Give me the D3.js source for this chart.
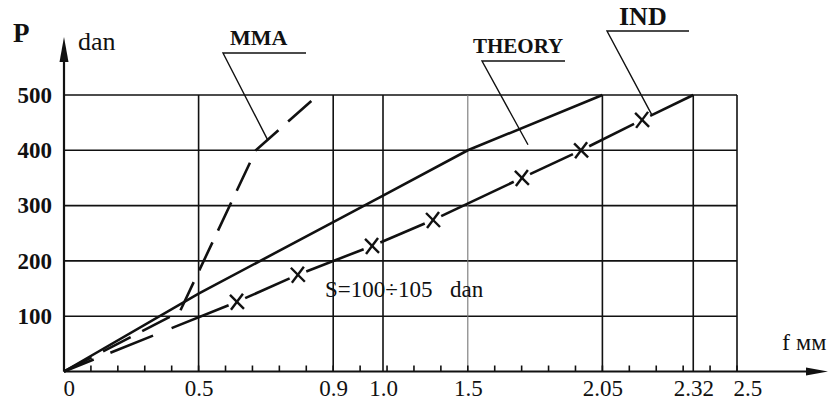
<!DOCTYPE html>
<html>
<head>
<meta charset="utf-8">
<script src="https://cdn.jsdelivr.net/npm/d3@7"></script>
<style>
  html, body { margin: 0; background: #fff; }
  svg { display: block; }
</style>
</head>
<body>
<svg id="chart" width="832" height="403"></svg>
<script>
// Load P (dan) against deflection f (mm) for three cases
const xTickValues = [0, 0.5, 0.9, 1.0, 1.5, 2.05, 2.32, 2.5];
const xTickLabels = ["0", "0.5", "0.9", "1.0", "1.5", "2.05", "2.32", "2.5"];
const yTickValues = [100, 200, 300, 400, 500];

const theoryF = [0, 0.5, 0.9, 1.0, 1.5, 2.05];
const theoryP = [0, 141, 270, 318, 400, 500];

const mmaF = [0, 0.43, 0.67, 0.855];
const mmaP = [0, 108, 400, 500];

const indF = [0, 0.614, 0.795, 0.978, 1.295, 1.721, 1.963, 2.168, 2.32];
const indP = [0, 126, 175, 227, 274, 350, 400, 455, 500];

const FONT = '"Liberation Serif"';
const INK = "#111";

// ---- layout ----
const plotLeft = 64, plotRight = 737, plotBottom = 371.5, plotTop = 95;

// The drawing's grid columns are not proportional to f:
// the labelled gridlines sit at these fractions of the plot width.
const xGridFrac = [0, 0.2, 0.4, 0.474, 0.6, 0.8, 0.935, 1];

const x = d3.scaleLinear()
  .domain(xTickValues)
  .range(xGridFrac.map(t => plotLeft + t * (plotRight - plotLeft)));
const y = d3.scaleLinear().domain([0, 500]).range([plotBottom, plotTop]);

const svg = d3.select("#chart");

function label(sel, size, bold) {
  return sel.style("font-family", FONT)
    .style("font-size", size + "px").style("font-weight", bold ? "bold" : "normal")
    .attr("fill", INK);
}

// ---- grid ----
const grid = svg.append("g");
grid.selectAll("line.h").data(yTickValues).join("line")
  .attr("x1", x(0)).attr("x2", x(2.5))
  .attr("y1", d => y(d)).attr("y2", d => y(d))
  .attr("stroke", INK).attr("stroke-width", 1.6);
grid.selectAll("line.v").data(xTickValues.slice(1)).join("line")
  .attr("x1", d => x(d)).attr("x2", d => x(d))
  .attr("y1", y(0)).attr("y2", y(500))
  .attr("stroke", d => d === 1.5 ? "#777" : INK)
  .attr("stroke-width", d => d === 1.5 ? 1.1 : 1.6);

// minor ticks: 25 equal divisions of the axis
const tickPos = d3.scaleLinear().domain([0, 25]).range([x(0), x(2.5)]);
grid.selectAll("line.t").data(d3.range(26)).join("line")
  .attr("x1", d => tickPos(d)).attr("x2", d => tickPos(d))
  .attr("y1", y(0)).attr("y2", y(0) - 6)
  .attr("stroke", INK).attr("stroke-width", 1.6);

// ---- axes with arrows ----
const axisG = svg.append("g");
const yTip = 37, yArrowBase = 62, xTip = 828, xArrowBase = 806;
axisG.append("line")
  .attr("x1", plotLeft).attr("x2", plotLeft).attr("y1", y(0)).attr("y2", yArrowBase)
  .attr("stroke", INK).attr("stroke-width", 2.2);
axisG.append("path")
  .attr("d", `M${plotLeft},${yTip}L${plotLeft - 4.5},${yArrowBase}L${plotLeft + 4.5},${yArrowBase}Z`)
  .attr("fill", INK);
axisG.append("line")
  .attr("x1", plotLeft).attr("x2", xArrowBase).attr("y1", y(0)).attr("y2", y(0))
  .attr("stroke", INK).attr("stroke-width", 2.2);
axisG.append("path")
  .attr("d", `M${xTip},${y(0)}L${xArrowBase},${y(0) - 4}L${xArrowBase},${y(0) + 4}Z`)
  .attr("fill", INK);

// tick labels
const xAxis = svg.append("g").attr("transform", `translate(0,${y(0)})`)
  .call(d3.axisBottom(x).tickValues(xTickValues)
    .tickFormat((d, i) => xTickLabels[i]).tickSize(0).tickPadding(8.5));
xAxis.select(".domain").remove();
xAxis.attr("font-family", null).attr("font-size", null);
label(xAxis.selectAll("text"), 23, false);
// the end labels sit to the right of their gridlines
xAxis.selectAll(".tick").filter((d, i) => i === 0).select("text")
  .attr("text-anchor", "start").attr("dx", -1);
xAxis.selectAll(".tick").filter((d, i) => i === xTickValues.length - 1).select("text")
  .attr("text-anchor", "start").attr("dx", -4);

const yAxis = svg.append("g").attr("transform", `translate(${plotLeft},0)`)
  .call(d3.axisLeft(y).tickValues(yTickValues).tickSize(0).tickPadding(12));
yAxis.select(".domain").remove();
yAxis.attr("font-family", null).attr("font-size", null);
label(yAxis.selectAll("text"), 23, true);

// axis titles
label(svg.append("text").attr("x", 13).attr("y", 42), 27, true).text("P");
label(svg.append("text").attr("x", 78).attr("y", 50), 26, false).text("dan");
label(svg.append("text").attr("x", 782).attr("y", 350), 24, false).text("f мм");

// ---- curves ----
const line = d3.line().x(d => x(d[0])).y(d => y(d[1]));
const zip = (a, b) => a.map((v, i) => [v, b[i]]);

const curves = svg.append("g").attr("fill", "none").attr("stroke", INK)
  .attr("stroke-width", 2.6).attr("stroke-linecap", "butt");

curves.append("path").attr("d", line(zip(theoryF, theoryP)));
curves.append("path").attr("d", line(zip(mmaF, mmaP)))
  .attr("stroke-dasharray", "31,13");

// IND: segments broken open around each cross marker
const indPts = zip(indF, indP).map(d => [x(d[0]), y(d[1])]);
const gap = 9;
for (let i = 0; i < indPts.length - 1; i++) {
  const [x0, y0] = indPts[i], [x1, y1] = indPts[i + 1];
  const len = Math.hypot(x1 - x0, y1 - y0);
  const ux = (x1 - x0) / len, uy = (y1 - y0) / len;
  const s = i === 0 ? 0 : gap;
  const e = i + 1 === indPts.length - 1 ? 0 : gap;
  const seg = curves.append("line")
    .attr("x1", x0 + ux * s).attr("y1", y0 + uy * s)
    .attr("x2", x1 - ux * e).attr("y2", y1 - uy * e);
  if (i === 0) seg.attr("stroke-dasharray", "32,18,46,20,400");
}
const markers = svg.append("g").attr("stroke", INK).attr("stroke-width", 2.4);
indPts.slice(1, -1).forEach(([px, py]) => {
  markers.append("line").attr("x1", px - 7).attr("y1", py - 7).attr("x2", px + 7).attr("y2", py + 7);
  markers.append("line").attr("x1", px + 6).attr("y1", py - 8).attr("x2", px - 6).attr("y2", py + 8);
});

// ---- callouts ----
const notes = [
  { text: "MMA", size: 22, tx: 230, ty: 45, ux0: 223, ux1: 306, uy: 53, at: [0.706, 418] },
  { text: "THEORY", size: 21, tx: 473, ty: 53, ux0: 482, ux1: 565, uy: 61, at: [1.746, 410] },
  { text: "IND", size: 26, tx: 619, ty: 25, ux0: 607, ux1: 689, uy: 31, at: [2.197, 464] }
];
const callG = svg.append("g");
notes.forEach(n => {
  label(callG.append("text").attr("x", n.tx).attr("y", n.ty), n.size, true).text(n.text);
  callG.append("path")
    .attr("d", `M${n.ux1},${n.uy}L${n.ux0},${n.uy}L${x(n.at[0])},${y(n.at[1])}`)
    .attr("fill", "none").attr("stroke", INK).attr("stroke-width", 1.4);
});

// sample size note
label(svg.append("text").attr("x", 325).attr("y", 297), 23, false).text("S=100÷105");
label(svg.append("text").attr("x", 450).attr("y", 297), 23, false).text("dan");
</script>
</body>
</html>
